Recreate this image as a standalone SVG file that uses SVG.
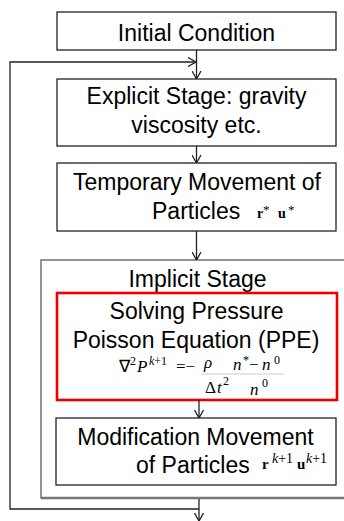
<svg xmlns="http://www.w3.org/2000/svg" width="344" height="521" viewBox="0 0 344 521">
<style>
.b{fill:#fff;stroke:#222;stroke-width:1.3}
.t{font-family:"Liberation Sans",Arial,sans-serif;font-size:23px;fill:#000;text-anchor:middle}
.s{font-family:"Liberation Sans",Arial,sans-serif;font-size:23px;fill:#000}
.m{font-family:"Liberation Serif","Times New Roman",serif;fill:#000}
.mi{font-family:"Liberation Serif","Times New Roman",serif;font-style:italic;fill:#000}
.c{fill:none;stroke:#222;stroke-width:1.3}
</style>
<defs>
<marker id="ah" viewBox="0 0 8 10" refX="8" refY="5" markerWidth="8" markerHeight="10" markerUnits="userSpaceOnUse" orient="auto">
<polyline points="0,0.5 8,5 0,9.5" fill="none" stroke="#222" stroke-width="1.3"/>
</marker>
</defs>
<rect width="344" height="521" fill="#fff"/>
<g id="implicit">
<rect x="41" y="260" width="312" height="238" fill="#fff" stroke="#666" stroke-width="1.4"/>
<line x1="41" y1="498" x2="344" y2="498" stroke="#777" stroke-width="2.5"/>
<text class="t" x="197.5" y="287">Implicit Stage</text>
</g>
<g id="initial">
<rect class="b" x="57" y="12" width="279" height="38"/>
<text class="t" x="196.5" y="41">Initial Condition</text>
</g>
<g id="explicit">
<rect class="b" x="57" y="79" width="279" height="67"/>
<text class="t" x="196.5" y="104">Explicit Stage: gravity</text>
<text class="t" x="196.5" y="133">viscosity etc.</text>
</g>
<g id="temporary">
<rect class="b" x="57" y="163" width="279" height="68"/>
<text class="t" x="197" y="190">Temporary Movement of</text>
<text class="s" x="152" y="219">Particles</text>
<text class="m" font-size="14" y="218"><tspan x="257" font-weight="bold">r</tspan><tspan x="263" y="214" font-size="13">*</tspan><tspan x="278" y="218" font-weight="bold">u</tspan><tspan x="288" y="214" font-size="13">*</tspan></text>
</g>
<g id="ppe">
<rect x="57" y="293" width="280" height="107" fill="#fff" stroke="#e00" stroke-width="2.6"/>
<text class="t" x="196.5" y="319">Solving Pressure</text>
<text class="t" x="196" y="348">Poisson Equation (PPE)</text>
<line x1="202" y1="374" x2="284" y2="374" stroke="#ccc" stroke-width="1"/>
<text class="m" font-size="17" y="372"><tspan x="119">∇</tspan><tspan x="130" y="365" font-size="12">2</tspan><tspan x="137" y="372" font-style="italic">P</tspan><tspan x="149" y="364.5" font-size="12" font-style="italic">k</tspan><tspan font-size="12">+1</tspan><tspan x="176" y="372">=−</tspan></text>
<text class="mi" font-size="17" x="204" y="368">ρ</text>
<text class="m" font-size="17" y="370"><tspan x="233" font-style="italic">n</tspan><tspan x="243" y="364" font-size="12">*</tspan><tspan x="249" y="370">−</tspan><tspan x="262" font-style="italic">n</tspan><tspan x="274" y="364" font-size="12">0</tspan></text>
<text class="m" font-size="17" y="393"><tspan x="205">Δ</tspan><tspan x="217" font-style="italic">t</tspan><tspan x="223" y="385" font-size="12">2</tspan></text>
<text class="m" font-size="17" y="395"><tspan x="250" font-style="italic">n</tspan><tspan x="262" y="387" font-size="12">0</tspan></text>
</g>
<g id="modification">
<rect class="b" x="56" y="418" width="280" height="67"/>
<text class="t" x="195.5" y="445">Modification Movement</text>
<text class="s" x="136" y="473">of Particles</text>
<text class="m" font-size="15" y="469"><tspan x="262" font-weight="bold">r</tspan><tspan x="272" y="463" font-size="14" font-style="italic">k</tspan><tspan font-size="14">+1</tspan><tspan x="297" y="469" font-weight="bold">u</tspan><tspan x="306" y="463" font-size="14" font-style="italic">k</tspan><tspan font-size="14">+1</tspan></text>
</g>
<g id="connectors">
<path class="c" d="M196.5 50 V79" marker-end="url(#ah)"/>
<path class="c" d="M199 509 H10 V62 H196" marker-end="url(#ah)"/>
<path class="c" d="M196.5 146 V163" marker-end="url(#ah)"/>
<path class="c" d="M196.5 231 V260" marker-end="url(#ah)"/>
<path class="c" d="M199 400 V418" marker-end="url(#ah)"/>
<path class="c" d="M199 499 V521" marker-end="url(#ah)"/>
</g>
</svg>
